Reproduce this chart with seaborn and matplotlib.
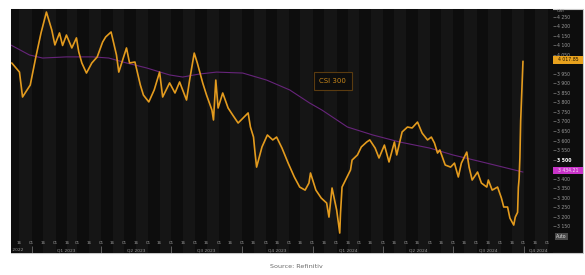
import matplotlib
matplotlib.use("Agg")
import matplotlib.pyplot as plt
import matplotlib.transforms as mtransforms
from matplotlib.patches import Rectangle
import seaborn as sns
import pandas as pd

# ---------------- data ----------------
price_dates = [
    "2022-12-06", "2022-12-16", "2022-12-20", "2022-12-30", "2023-01-06", "2023-01-13",
    "2023-01-20", "2023-01-27", "2023-01-31", "2023-02-06", "2023-02-10", "2023-02-15",
    "2023-02-22", "2023-02-28", "2023-03-03", "2023-03-07", "2023-03-13", "2023-03-20",
    "2023-03-27", "2023-04-03", "2023-04-07", "2023-04-14", "2023-04-21", "2023-04-24",
    "2023-05-04", "2023-05-08", "2023-05-15", "2023-05-22", "2023-05-26", "2023-06-02",
    "2023-06-09", "2023-06-16", "2023-06-20", "2023-06-29", "2023-07-06", "2023-07-12",
    "2023-07-21", "2023-07-25", "2023-07-31", "2023-08-04", "2023-08-11", "2023-08-16",
    "2023-08-23", "2023-08-25", "2023-08-28", "2023-08-31", "2023-09-06", "2023-09-13",
    "2023-09-19", "2023-09-26", "2023-10-09", "2023-10-12", "2023-10-16", "2023-10-18",
    "2023-10-20", "2023-10-27", "2023-11-03", "2023-11-10", "2023-11-15", "2023-11-22",
    "2023-11-30", "2023-12-08", "2023-12-15", "2023-12-22", "2023-12-27", "2023-12-29",
    "2024-01-05", "2024-01-12", "2024-01-19", "2024-01-22", "2024-01-26", "2024-02-01",
    "2024-02-05", "2024-02-06", "2024-02-08", "2024-02-19", "2024-02-21", "2024-02-28",
    "2024-03-04", "2024-03-11", "2024-03-15", "2024-03-22", "2024-03-27", "2024-04-03",
    "2024-04-09", "2024-04-16", "2024-04-19", "2024-04-26", "2024-05-03", "2024-05-09",
    "2024-05-16", "2024-05-22", "2024-05-29", "2024-06-03", "2024-06-07", "2024-06-11",
    "2024-06-14", "2024-06-21", "2024-06-28", "2024-07-03", "2024-07-08", "2024-07-12",
    "2024-07-19", "2024-07-22", "2024-07-26", "2024-08-02", "2024-08-07", "2024-08-14",
    "2024-08-16", "2024-08-21", "2024-08-28", "2024-09-02", "2024-09-05", "2024-09-10",
    "2024-09-13", "2024-09-18", "2024-09-20", "2024-09-23", "2024-09-24", "2024-09-25",
    "2024-09-26", "2024-09-27", "2024-09-30",
]
price_values = [
    4008, 3960, 3829, 3892, 4034, 4166,
    4276, 4181, 4103, 4166, 4100, 4155,
    4087, 4140, 4066, 4008, 3955, 4008,
    4040, 4118, 4145, 4171, 4050, 3960,
    4087, 4008, 4013, 3892, 3839, 3803,
    3866, 3960, 3829, 3903, 3850, 3908,
    3813, 3918, 4060, 4008, 3903, 3839,
    3760, 3708, 3918, 3771, 3850, 3771,
    3734, 3692, 3745, 3671, 3618, 3534,
    3460, 3566, 3629, 3603, 3618, 3560,
    3481, 3408, 3355, 3339, 3376, 3429,
    3339, 3297, 3271, 3197, 3350, 3234,
    3113, 3218, 3355, 3445, 3497, 3524,
    3566, 3592, 3603, 3560, 3508, 3576,
    3487, 3592, 3524, 3645, 3671, 3666,
    3697, 3639, 3603, 3618, 3587, 3534,
    3550, 3471, 3460, 3481, 3408, 3481,
    3539, 3460, 3392, 3434, 3376, 3355,
    3392, 3339, 3355, 3297, 3250, 3250,
    3192, 3155, 3197, 3222, 3353, 3400,
    3510, 3703, 4017,
]

ma_dates = [
    "2022-12-05", "2022-12-29", "2023-01-15", "2023-02-15", "2023-03-21", "2023-04-11",
    "2023-05-04", "2023-05-30", "2023-06-29", "2023-07-16", "2023-08-07", "2023-08-29",
    "2023-10-02", "2023-11-02", "2023-12-02", "2023-12-28", "2024-01-13", "2024-02-15",
    "2024-03-19", "2024-04-23", "2024-06-01", "2024-07-01", "2024-08-14", "2024-09-30",
]
ma_values = [
    4102, 4050, 4034, 4040, 4040, 4034,
    4008, 3982, 3945, 3934, 3950, 3960,
    3955, 3918, 3866, 3797, 3760, 3671,
    3629, 3592, 3560, 3524, 3481, 3434,
]

y_tick_values = [4250, 4200, 4150, 4100, 4050, 3950, 3900, 3850, 3800, 3750, 3700,
                 3650, 3600, 3550, 3500, 3400, 3350, 3300, 3250, 3200, 3150]
quarter_labels = ["Q1 2023", "Q2 2023", "Q3 2023", "Q4 2023",
                  "Q1 2024", "Q2 2024", "Q3 2024", "Q4 2024"]
quarter_starts = ["2023-01-01", "2023-04-01", "2023-07-01", "2023-10-01",
                  "2024-01-01", "2024-04-01", "2024-07-01", "2024-10-01"]
last_price_label = "4 017.85"
last_ma_label = "3 434.21"
series_name = "CSI 300"
source_text = "Source: Refinitiv"

# ---------------- styling ----------------
sns.set_style("dark")
plt.rcParams["font.family"] = ["DejaVu Sans"]

BG = "#0d0d0d"
BAND = "#151515"
ORANGE = "#e39b1e"
PURPLE = "#66247a"
GREY = "#9a9a9a"

W, H = 585, 275
fig = plt.figure(figsize=(W / 100, H / 100), dpi=100)
fig.patch.set_facecolor("white")


def fx(p):
    return p / W


def fy(p):
    return 1 - p / H


fig.patches.append(Rectangle((fx(11), fy(253)), fx(583) - fx(11), fy(9) - fy(253),
                             transform=fig.transFigure, facecolor=BG,
                             edgecolor="#c8c8c8", lw=0.8, zorder=-5))

ax = fig.add_axes([fx(11), fy(253), fx(553) - fx(11), fy(9) - fy(253)])
ax.set_zorder(1)
ax.set_facecolor(BG)
for s in ax.spines.values():
    s.set_visible(False)

x_min, x_max = pd.Timestamp("2022-12-05"), pd.Timestamp("2024-11-08")

# alternating half-month bands
half_months = pd.date_range("2022-11-16", "2024-11-30", freq="SMS-16")
for i in range(0, len(half_months) - 1, 2):
    ax.axvspan(half_months[i], half_months[i + 1], color=BAND, lw=0, zorder=0)

price_df = pd.DataFrame({"date": pd.to_datetime(price_dates), "value": price_values})
ma_df = pd.DataFrame({"date": pd.to_datetime(ma_dates), "value": ma_values})

sns.lineplot(data=ma_df, x="date", y="value", ax=ax, color=PURPLE, lw=0.8, zorder=2)
sns.lineplot(data=price_df, x="date", y="value", ax=ax, color=ORANGE, lw=1.2, zorder=3)

ax.set_xlim(x_min, x_max)
ax.set_ylim(3008, 4292)
ax.set_xlabel("")
ax.set_ylabel("")
ax.grid(False)

# right-hand price axis
ax.yaxis.tick_right()
ax.set_yticks(y_tick_values)
ax.set_yticklabels([f"{v:,}".replace(",", " ") for v in y_tick_values])
ax.tick_params(axis="y", colors=GREY, labelsize=3.3, length=2, width=0.4, pad=1)
for lab in ax.get_yticklabels():
    if lab.get_text() == "3 500":
        lab.set_color("white")
        lab.set_fontweight("bold")
ax.set_xticks([])

# bottom date rows (inside the dark panel)
blend = mtransforms.blended_transform_factory(ax.transData, ax.transAxes)
day_ticks = pd.date_range("2022-12-01", "2024-11-05", freq="SMS-16")
for d in day_ticks:
    if x_min < d < x_max:
        ax.text(d, 0.041, d.strftime("%d"), transform=blend, ha="center", va="center",
                fontsize=3.0, color=GREY)

q_starts = pd.to_datetime(quarter_starts)
q_ends = list(q_starts[1:]) + [x_max]
for lab, s, e in zip(quarter_labels, q_starts, q_ends):
    e = min(e, x_max)
    mid = s + (e - s) / 2
    ax.text(mid, 0.012, lab, transform=blend, ha="center", va="center",
            fontsize=3.2, color=GREY)
ax.vlines(q_starts, 0.0, 0.03, transform=blend, color=GREY, lw=0.4)
ax.text(x_min, 0.012, " 2022", transform=blend, ha="left", va="center",
        fontsize=3.2, color=GREY)

# legend box
ax.text(pd.Timestamp("2024-01-27"), 3913, series_name, ha="center", va="center",
        fontsize=5, color="#c8871a",
        bbox=dict(boxstyle="square,pad=0.8", fc=BG, ec="#5a3b10", lw=0.8), zorder=5)

# right-side value boxes
fig.patches.append(Rectangle((fx(553), fy(63.5)), fx(583) - fx(553), fy(56) - fy(63.5),
                             transform=fig.transFigure, facecolor="#e8a21e", lw=0, zorder=4))
fig.text(fx(568), fy(59.8), last_price_label, ha="center", va="center",
         fontsize=3.3, color="#1a1000", zorder=5)
fig.patches.append(Rectangle((fx(553), fy(174)), fx(583) - fx(553), fy(167) - fy(174),
                             transform=fig.transFigure, facecolor="#c934c9", lw=0, zorder=4))
fig.text(fx(568), fy(170.5), last_ma_label, ha="center", va="center",
         fontsize=3.3, color="#f4e0f4", zorder=5)
fig.text(fx(557), fy(10.5), "CNY", ha="left", va="center", fontsize=3.0, color=GREY)
fig.patches.append(Rectangle((fx(555), fy(240)), fx(568) - fx(555), fy(233) - fy(240),
                             transform=fig.transFigure, facecolor="#4a4a4a", lw=0, zorder=4))
fig.text(fx(561.5), fy(236.5), "Auto", ha="center", va="center", fontsize=3.3,
         color="#dddddd", zorder=5)

fig.text(fx(296), fy(267), source_text, ha="center", va="center", fontsize=4.6,
         color="#6a6a6a", family=["Liberation Sans Narrow", "DejaVu Sans"])

fig.savefig("out.png", dpi=100, facecolor="white")
